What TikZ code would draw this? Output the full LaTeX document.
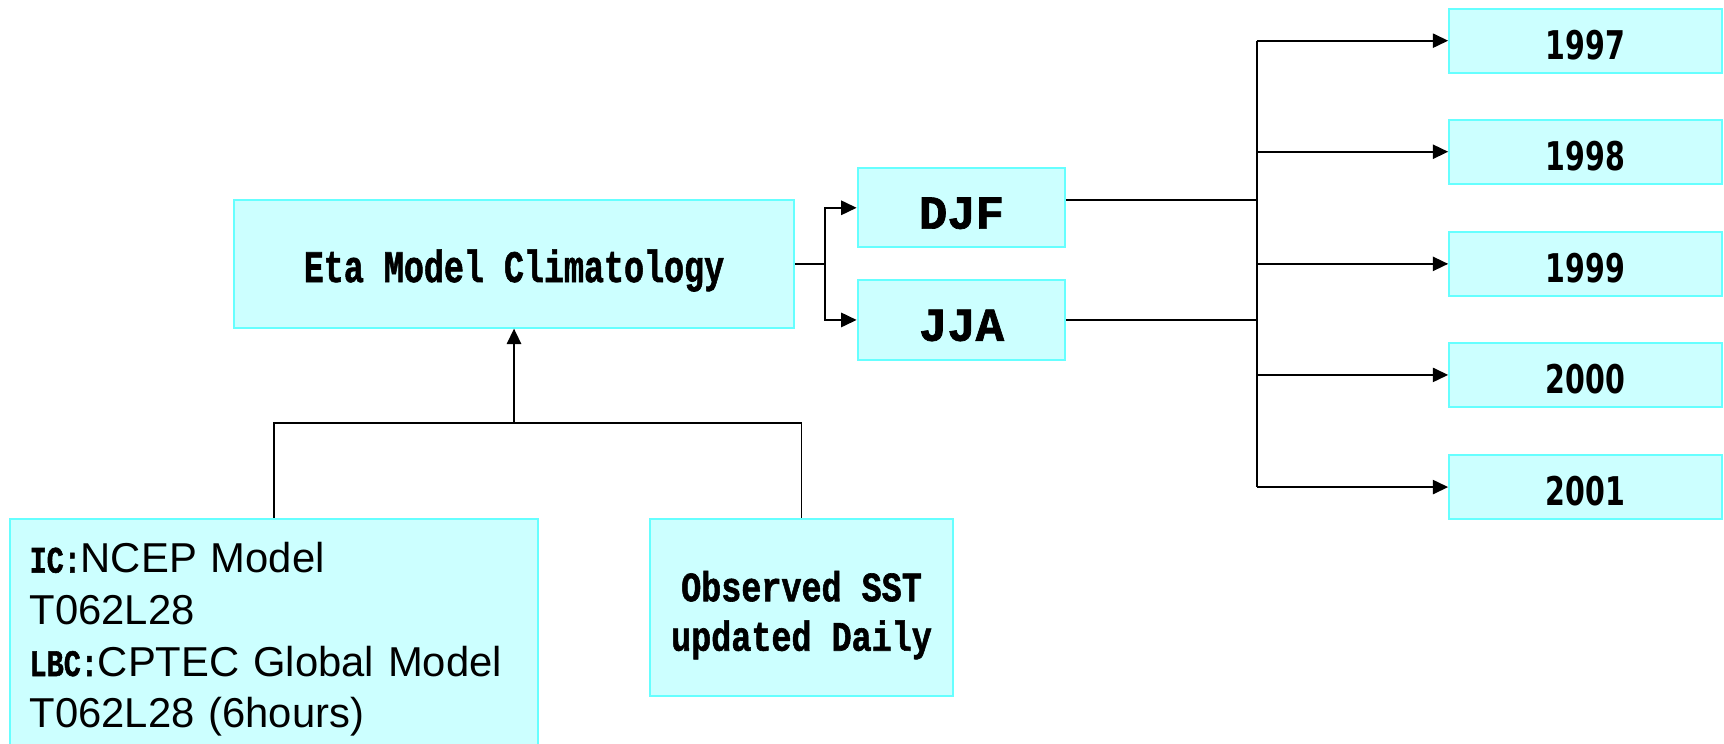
\documentclass[tikz,border=0pt]{standalone}
\usepackage{fontspec}
\setmainfont{Liberation Sans}
\newfontfamily\monob{Liberation Mono}[BoldFeatures={FakeBold=1.5}]
\newfontfamily\yearf{DejaVu Sans}
\usetikzlibrary{arrows.meta,calc}
\definecolor{boxfill}{HTML}{CCFFFF}
\definecolor{boxline}{HTML}{66FFFF}
\tikzset{
  box/.style={draw=boxline, fill=boxfill, line width=1.8pt, inner sep=0pt},
  conn/.style={draw=black, line width=1.7pt},
  arr/.style={conn, -{Triangle[length=14pt,width=13pt]}},
  courtxt/.style={font=\monob\bfseries\fontsize{41}{41}\selectfont},
  seasontxt/.style={font=\monob\bfseries\fontsize{43}{43}\selectfont},
  yeartxt/.style={font=\yearf\bfseries\fontsize{36}{36}\selectfont},
  yearbox/.style={box, minimum width=248pt, minimum height=58pt, yeartxt},
  seasonbox/.style={box, minimum width=189pt, minimum height=72pt, seasontxt},
}
\newcommand{\dn}[2]{\raisebox{-#1}[\height][\depth]{#2}}
\newcommand{\yr}[1]{\dn{4pt}{\scalebox{0.72}[1]{#1}}}
\newcommand{\cw}[1]{{\monob\bfseries\fontsize{34}{34}\selectfont\scalebox{0.76}[1]{#1}}}
\begin{document}
\begin{tikzpicture}[x=1pt,y=-1pt]
\useasboundingbox (0,0) rectangle (1568,676);
% boxes
\node[box, minimum width=509pt, minimum height=116pt, courtxt] (main) at (467.5,240)
  {\dn{6pt}{\scalebox{0.74}[1]{Eta Model Climatology}}};
\node[seasonbox] (djf) at (874.5,189) {\dn{5pt}{DJF}};
\node[seasonbox] (jja) at (874.5,291) {\dn{5pt}{JJA}};
\node[yearbox] (y97) at (1442,37) {\yr{1997}};
\node[yearbox] (y98) at (1442,138) {\yr{1998}};
\node[yearbox] (y99) at (1442,240) {\yr{1999}};
\node[yearbox] (y00) at (1442,341) {\yr{2000}};
\node[yearbox] (y01) at (1442,443) {\yr{2001}};
\node[box, minimum width=276pt, minimum height=161pt, align=center,
  font=\monob\bfseries\fontsize{38}{45}\selectfont] (sst) at (729,552.5)
  {\dn{7pt}{\scalebox{0.8}[1]{Observed SST}}\\\dn{7pt}{\scalebox{0.8}[1]{updated Daily}}};
\node[box, minimum width=480pt, minimum height=219pt, text width=444pt, align=left, inner xsep=18pt,
  font=\fontsize{38}{47}\selectfont] (left) at (249,581.5)
  {\cw{IC:}NCEP Model\\T062L28\\\cw{LBC:}CPTEC Global Model\\T062L28 (6hours)};
% junctions
\coordinate (mj) at (750,240);
\coordinate (rj) at (1143,240);
\coordinate (bj) at (467.5,385);
\coordinate (djfout) at ($(djf.east)+(0,-7)$);
% connectors
\draw[conn] (main.east) -- (mj);
\draw[arr] (mj) |- (djf.west);
\draw[arr] (mj) |- (jja.west);
\draw[conn] (djfout) -- (djfout -| rj);
\draw[conn] (jja.east) -- (jja.east -| rj);
\draw[conn] (y97.west -| rj) -- (y01.west -| rj);
\foreach \n in {y97,y98,y99,y00,y01}{
  \draw[arr] (\n.west -| rj) -- (\n.west);
}
\draw[conn] (left.north) -- (left.north |- bj) -- (sst.north |- bj) -- (sst.north);
\draw[arr] (bj) -- (main.south);
\end{tikzpicture}
\end{document}
